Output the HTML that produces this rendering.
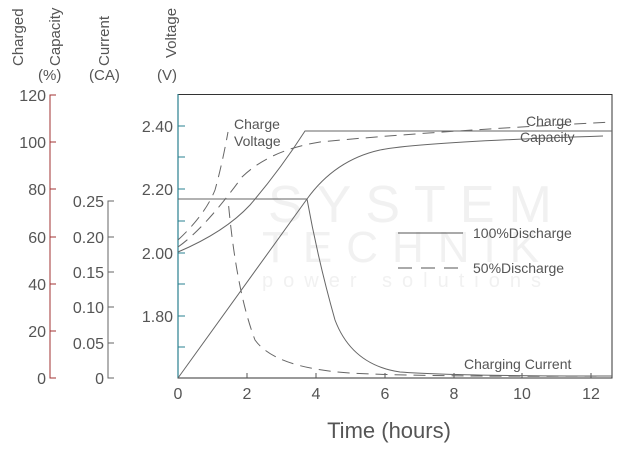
<!DOCTYPE html>
<html><head><style>
body{margin:0;background:#fff;}
svg{display:block;font-family:"Liberation Sans",sans-serif;}
</style></head><body>
<svg width="625" height="450" viewBox="0 0 625 450">
<g fill="#f1f1f1" font-size="52" letter-spacing="14">
<text x="268" y="222">SYSTEM</text>
<text x="262" y="262" font-size="44">TECHNIK</text>
<text x="262" y="287" font-size="20" letter-spacing="10">power solutions</text>
</g>
<g fill="#555" font-size="15">
<text transform="translate(23,66) rotate(-90)">Charged</text>
<text transform="translate(60,66) rotate(-90)">Capacity</text>
<text x="38" y="80">(%)</text>
<text transform="translate(109,66) rotate(-90)">Current</text>
<text x="89" y="80">(CA)</text>
<text transform="translate(176,58) rotate(-90)">Voltage</text>
<text x="157" y="80">(V)</text>
</g>
<g stroke="#a03030" stroke-width="1" fill="none">
<path d="M56,95 H50 V378 H56"/>
<path d="M50,142h6M50,189h6M50,237h6M50,284h6M50,331h6"/>
</g>
<g fill="#555" font-size="16" text-anchor="end">
<text x="46" y="101">120</text><text x="46" y="148">100</text><text x="46" y="195">80</text>
<text x="46" y="243">60</text><text x="46" y="290">40</text><text x="46" y="337">20</text><text x="46" y="384">0</text>
</g>
<g stroke="#666" stroke-width="1" fill="none">
<path d="M114,201 H108 V378 H114"/>
<path d="M108,237h6M108,272h6M108,307h6M108,343h6"/>
</g>
<g fill="#555" font-size="16" text-anchor="end">
<text x="104" y="207">0.25</text><text x="104" y="243">0.20</text><text x="104" y="278">0.15</text>
<text x="104" y="313">0.10</text><text x="104" y="349">0.05</text><text x="104" y="384">0</text>
</g>
<rect x="178" y="94.5" width="434" height="283.5" fill="none" stroke="#333" stroke-width="1"/>
<line x1="178" y1="94" x2="178" y2="378" stroke="#2a8090" stroke-width="1.2"/>
<g stroke="#2a8090" stroke-width="1">
<path d="M178,126h7M178,157h7M178,189h7M178,221h7M178,253h7M178,284h7M178,316h7M178,347h7"/>
</g>
<g stroke="#555"><path d="M247,378v-5M316,378v-5M385,378v-5M454,378v-5M522,378v-5M591,378v-5"/></g>
<g fill="#555" font-size="16" text-anchor="end">
<text x="173" y="132">2.40</text><text x="173" y="195">2.20</text><text x="173" y="259">2.00</text><text x="173" y="322">1.80</text>
</g>
<g fill="#555" font-size="16" text-anchor="middle">
<text x="178" y="399">0</text><text x="247" y="399">2</text><text x="316" y="399">4</text><text x="385" y="399">6</text>
<text x="454" y="399">8</text><text x="522" y="399">10</text><text x="591" y="399">12</text>
</g>
<text x="389" y="438" fill="#555" font-size="22" text-anchor="middle">Time (hours)</text>
<g fill="none" stroke="#666" stroke-width="1">
<path d="M178,252 Q225,232 250,205 Q280,170 305,131 H612"/>
<path d="M178,199 H307"/>
<path d="M178,378 L307,199 Q335,160 380,150 Q420,142 603,136"/>
<path d="M307,199 Q318,260 335,320 Q352,365 400,372 Q450,376 612,376"/>
</g>
<g fill="none" stroke="#666" stroke-width="1" stroke-dasharray="12,7">
<path d="M178,240 Q205,215 215,190 Q222,165 228,132"/>
<path d="M178,199 H228 Q236,290 255,340 Q275,368 350,373 Q420,377 612,376"/>
<path d="M178,247 Q205,228 242,177 Q270,150 320,142 Q420,132 612,122"/>
</g>
<line x1="398" y1="233" x2="463" y2="233" stroke="#555"/>
<line x1="398" y1="268" x2="463" y2="268" stroke="#555" stroke-dasharray="14,9"/>
<g fill="#555" font-size="14">
<text x="473" y="238">100%Discharge</text>
<text x="473" y="273">50%Discharge</text>
<text x="234" y="129">Charge</text>
<text x="234" y="146">Voltage</text>
<text x="526" y="126">Charge</text>
<text x="520" y="142">Capacity</text>
<text x="464" y="369">Charging Current</text>
</g>
</svg>
</body></html>
